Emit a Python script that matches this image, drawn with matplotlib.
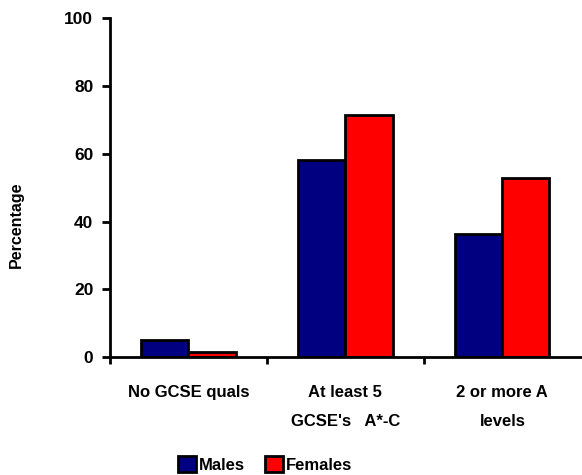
import matplotlib
matplotlib.use("Agg")
import matplotlib.pyplot as plt
import numpy as np
from matplotlib.patches import Patch

categories = ["No GCSE quals", "At least 5\nGCSE's   A*-C", "2 or more A\nlevels"]
males = [5.2, 58.1, 36.3]
females = [1.6, 71.3, 52.8]
yticks = [0, 20, 40, 60, 80, 100]

plt.rcParams['font.family'] = ['Liberation Sans', 'DejaVu Sans']
plt.rcParams['font.weight'] = 'bold'

fig = plt.figure(figsize=(5.82, 4.75), dpi=100)
ax = fig.add_axes([0.189, 0.248, 0.809, 0.714])

x = np.arange(len(categories))
w = 0.3
ax.bar(x - w/2, males, w, color='#000080', edgecolor='black', linewidth=2, label='Males')
ax.bar(x + w/2, females, w, color='#FF0000', edgecolor='black', linewidth=2, label='Females')

ax.set_xlim(-0.5, len(categories) - 0.5)
ax.set_ylim(0, 100)
ax.set_yticks(yticks)
ax.set_yticklabels([str(t) for t in yticks], fontsize=12.5, fontweight='bold')
ax.set_xticks([-0.5, 0.5, 1.5])
ax.set_xticklabels([])
ax.set_xticks(x, minor=True)
ax.set_xticklabels(categories, minor=True, fontsize=12, fontweight='bold', linespacing=2.15, va='top')
ax.tick_params(axis='x', which='minor', length=0, pad=20)
ax.tick_params(axis='x', which='major', length=5, width=2, direction='out')
ax.tick_params(axis='y', length=6, width=2, direction='out', pad=6)

for s in ['top', 'right']:
    ax.spines[s].set_visible(False)
for s in ['left', 'bottom']:
    ax.spines[s].set_linewidth(2)

ax.set_ylabel('Percentage', fontsize=11.5, fontweight='bold')
ax.yaxis.set_label_coords(-0.183, 0.392)

handles = [Patch(facecolor='#000080', edgecolor='black', linewidth=2),
           Patch(facecolor='#FF0000', edgecolor='black', linewidth=2)]
fig.legend(handles, ['Males', 'Females'], loc='center', bbox_to_anchor=(0.455, 0.022),
           ncol=2, frameon=False, prop={'size': 12, 'weight': 'bold'},
           handlelength=1.1, handleheight=1.1, handletextpad=0.15, columnspacing=1.2)

fig.savefig('out.png', dpi=100)
